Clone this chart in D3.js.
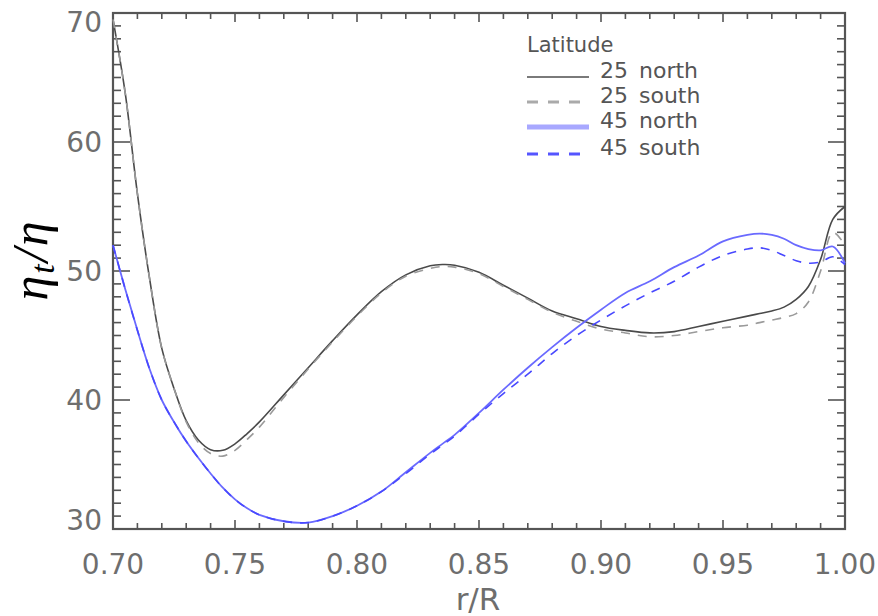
<!DOCTYPE html>
<html><head><meta charset="utf-8">
<script src="https://cdn.jsdelivr.net/npm/d3@7"></script>
<style>body{margin:0;background:#fff}svg{display:block}</style>
</head><body>
<svg id="c" width="878" height="616"></svg>
<script>
const radius = [0.700,0.705,0.710,0.715,0.720,0.725,0.730,0.735,0.740,0.745,0.750,0.755,0.760,0.770,0.780,0.790,0.800,0.810,0.820,0.830,0.835,0.840,0.850,0.860,0.870,0.880,0.890,0.900,0.910,0.920,0.930,0.940,0.950,0.960,0.965,0.970,0.975,0.980,0.985,0.990,0.995,1.000];
const north25 = [69.5,63.8,56.0,49.4,44.0,40.9,38.4,36.9,36.15,36.1,36.6,37.4,38.3,40.4,42.5,44.6,46.6,48.4,49.7,50.4,50.5,50.45,49.9,48.9,47.9,46.9,46.3,45.7,45.4,45.2,45.3,45.7,46.1,46.5,46.7,46.9,47.2,47.8,48.8,50.9,54.0,55.0];
const south25 = [69.5,63.8,56.0,49.4,44.0,40.9,38.3,36.7,35.85,35.65,36.1,36.95,37.9,40.2,42.4,44.5,46.5,48.3,49.6,50.2,50.35,50.3,49.8,48.8,47.8,46.8,46.1,45.5,45.2,44.9,45.0,45.3,45.6,45.8,46.0,46.2,46.4,46.7,47.6,50.0,53.0,52.0];
const north45 = [52.0,48.6,45.4,42.4,40.0,38.3,36.8,35.5,34.3,33.2,32.3,31.6,31.1,30.6,30.5,31.0,31.8,32.9,34.4,35.9,36.6,37.3,39.0,40.8,42.5,44.1,45.6,47.0,48.3,49.2,50.3,51.2,52.3,52.8,52.9,52.8,52.5,52.0,51.7,51.6,51.9,50.6];
const south45 = [52.0,48.6,45.4,42.4,40.0,38.3,36.8,35.5,34.3,33.2,32.3,31.6,31.1,30.6,30.5,31.0,31.8,32.9,34.3,35.8,36.5,37.2,38.9,40.5,42.0,43.6,45.0,46.2,47.3,48.3,49.2,50.3,51.2,51.7,51.8,51.6,51.2,50.8,50.6,50.7,51.1,50.5];
const seriesNames = ["25 north","25 south","45 north","45 south"];
const xTicks = [0.70,0.75,0.80,0.85,0.90,0.95,1.00];
const yTicks = [30,40,50,60,70];

const svg = d3.select("#c");
const L=113,R=845,T=13,B=529;
const x = d3.scaleLinear().domain([0.70,1.00]).range([L,R]);
const y = d3.scaleLinear().domain([30,70]).range([B,T]);
const axisCol="#555";

// minor ticks
const xMinor = d3.range(0,31).map(i=>0.70+i*0.01);
const yMinor = d3.range(30,71);
const g = svg.append("g");
xMinor.forEach(v=>{
  const major = Math.abs(Math.round(v*20)-v*20)<1e-6;
  const len = major?9:6;
  g.append("line").attr("x1",x(v)).attr("x2",x(v)).attr("y1",B).attr("y2",B-len).attr("stroke",axisCol).attr("stroke-width",1.6);
  g.append("line").attr("x1",x(v)).attr("x2",x(v)).attr("y1",T).attr("y2",T+len).attr("stroke",axisCol).attr("stroke-width",1.6);
});
yMinor.forEach(v=>{
  const major = v%10===0;
  const len = major?17:8;
  g.append("line").attr("y1",y(v)).attr("y2",y(v)).attr("x1",L).attr("x2",L+len).attr("stroke",axisCol).attr("stroke-width",1.6);
  g.append("line").attr("y1",y(v)).attr("y2",y(v)).attr("x1",R).attr("x2",R-len).attr("stroke",axisCol).attr("stroke-width",1.6);
});
svg.append("rect").attr("x",L).attr("y",T).attr("width",R-L).attr("height",B-T).attr("fill","none").attr("stroke",axisCol).attr("stroke-width",2.2);

// tick labels
const lblFont = "DejaVu Sans";
const lblCol = "#6e6e6e";
xTicks.forEach(v=>{
  svg.append("text").attr("x",x(v)).attr("y",574).attr("text-anchor","middle")
    .attr("font-family",lblFont).attr("font-size",28).attr("fill",lblCol).text(d3.format(".2f")(v));
});
yTicks.forEach(v=>{
  const cy = Math.max(22, Math.min(520, y(v)));
  svg.append("text").attr("x",102).attr("y",cy).attr("dy","0.36em").attr("text-anchor","end")
    .attr("font-family",lblFont).attr("font-size",28).attr("fill",lblCol).text(v);
});
svg.append("text").attr("x",478).attr("y",610).attr("text-anchor","middle")
  .attr("font-family",lblFont).attr("font-size",31).attr("fill",lblCol).text("r/R");

const yl = svg.append("text").attr("transform","translate(47,260) rotate(-90)").attr("text-anchor","middle")
  .attr("font-family","Liberation Serif").attr("font-style","italic").attr("font-size",50)
  .attr("letter-spacing",2).attr("fill","#000");
yl.append("tspan").text("η");
yl.append("tspan").attr("font-size",34).attr("dy",7).text("t");
yl.append("tspan").attr("dy",-7).text("/η");

// lines
const styles = [
  {vals:north25, color:"#4a4a4a", w:1.6, dash:null},
  {vals:south25, color:"#9a9a9a", w:1.6, dash:"9,8"},
  {vals:north45, color:"#6a6aff", w:1.8, dash:null},
  {vals:south45, color:"#4848ff", w:1.6, dash:"9,8"}
];
const line = d3.line().x(d=>x(d[0])).y(d=>y(d[1])).curve(d3.curveCatmullRom.alpha(0.5));
const plot = svg.append("g");
styles.forEach(s=>{
  plot.append("path").attr("d",line(radius.map((r,i)=>[r,s.vals[i]])))
    .attr("fill","none").attr("stroke",s.color).attr("stroke-width",s.w)
    .attr("stroke-dasharray",s.dash);
});

// legend
const lg = svg.append("g");
lg.append("text").attr("x",527).attr("y",52).attr("font-family",lblFont).attr("font-size",21).attr("fill","#555").text("Latitude");
const legStyles = [
  {color:"#7a7a7a", w:2, dash:null},
  {color:"#aaaaaa", w:3, dash:"11,10"},
  {color:"#a8a8ff", w:5, dash:null},
  {color:"#5555ff", w:3, dash:"11,10"}
];
const rowsY = [78,103,128,155];
seriesNames.forEach((n,i)=>{
  const st = legStyles[i];
  lg.append("line").attr("x1",527).attr("x2",589).attr("y1",rowsY[i]-1).attr("y2",rowsY[i]-1)
    .attr("stroke",st.color).attr("stroke-width",st.w).attr("stroke-dasharray",st.dash);
  const [num,word] = n.split(" ");
  lg.append("text").attr("x",600).attr("y",rowsY[i]).attr("font-family",lblFont).attr("font-size",22).attr("fill","#555").text(num);
  lg.append("text").attr("x",639).attr("y",rowsY[i]).attr("font-family",lblFont).attr("font-size",22).attr("fill","#555").text(word);
});
</script>
</body></html>
